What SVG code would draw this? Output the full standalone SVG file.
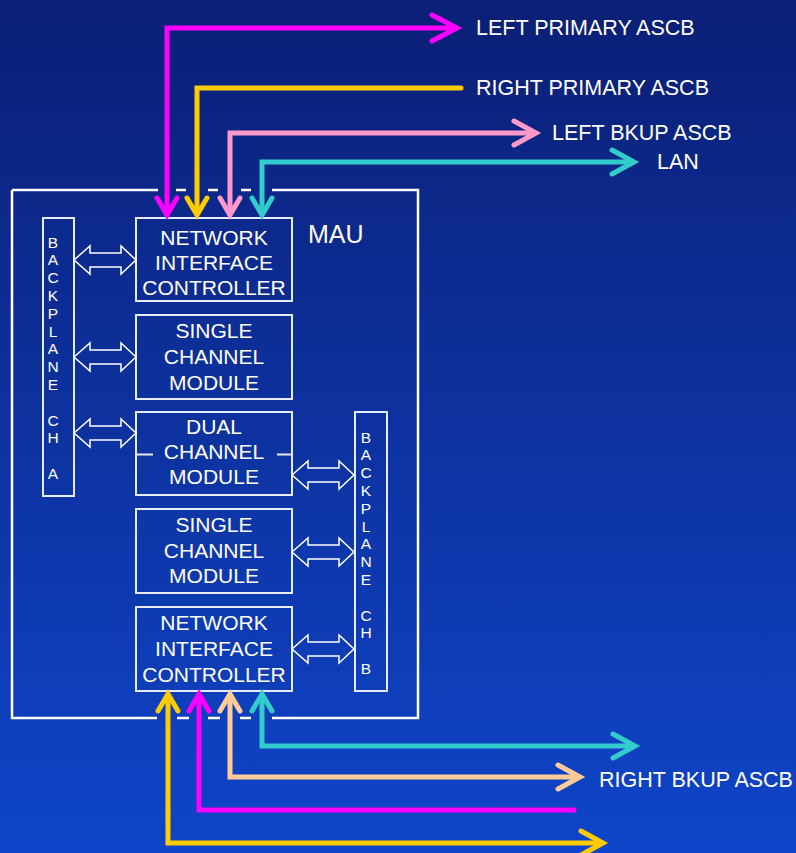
<svg xmlns="http://www.w3.org/2000/svg" width="796" height="853" viewBox="0 0 796 853">
<defs>
<linearGradient id="bg" x1="0" y1="0" x2="0" y2="1">
<stop offset="0" stop-color="#0b1f76"/>
<stop offset="1" stop-color="#0f45c9"/>
</linearGradient>
<path id="dbl" d="M74,0 L90,-14 L90,-7 L121,-7 L121,-14 L136,0 L121,14 L121,7 L90,7 L90,14 Z"/>
</defs>
<style>
.box{fill:none;stroke:#e8ecff;stroke-width:2}
.edge{stroke:#ffffff;stroke-width:2.5;fill:none}
.t{font-family:"Liberation Sans",Arial,sans-serif;font-size:21px;fill:#ffffff;text-anchor:middle}
.lbl{font-family:"Liberation Sans",Arial,sans-serif;font-size:21.5px;fill:#ffffff}
.bp{font-family:"Liberation Sans",Arial,sans-serif;font-size:15.5px;fill:#ffffff;text-anchor:middle}
.ba{fill:none;stroke:#ffffff;stroke-width:1.5;stroke-linejoin:miter}
.c{fill:none;stroke-width:5;stroke-linecap:round;stroke-linejoin:miter}
.mg{stroke:#ff00ff}.yl{stroke:#ffcc00}.pk{stroke:#ff99cc}.tl{stroke:#33cccc}.pc{stroke:#ffcc99}
</style>
<rect x="0" y="0" width="796" height="853" fill="url(#bg)"/>

<g id="mau">
<path class="edge" d="M12,190 V718 H157 M177,718 H189 M208,718 H220 M240,718 H251 M272,718 H418 V190 H272 M251,190 H241 M218,190 H208 M186,190 H176 M158,190 H12"/>
<text class="lbl" x="308" y="243" style="font-size:25px">MAU</text>
</g>

<g id="backplane-a">
<rect class="box" x="43" y="218" width="31" height="278"/>
<text class="bp"><tspan x="53" y="247.5">B</tspan><tspan x="53" y="265.3">A</tspan><tspan x="53" y="283.1">C</tspan><tspan x="53" y="300.9">K</tspan><tspan x="53" y="318.7">P</tspan><tspan x="53" y="336.5">L</tspan><tspan x="53" y="354.3">A</tspan><tspan x="53" y="372.1">N</tspan><tspan x="53" y="389.9">E</tspan><tspan x="53" y="425.5">C</tspan><tspan x="53" y="443.3">H</tspan><tspan x="53" y="478.9">A</tspan></text>
</g>

<g id="backplane-b">
<rect class="box" x="355" y="412" width="32" height="279"/>
<text class="bp"><tspan x="366" y="442.5">B</tspan><tspan x="366" y="460.3">A</tspan><tspan x="366" y="478.1">C</tspan><tspan x="366" y="495.9">K</tspan><tspan x="366" y="513.7">P</tspan><tspan x="366" y="531.5">L</tspan><tspan x="366" y="549.3">A</tspan><tspan x="366" y="567.1">N</tspan><tspan x="366" y="584.9">E</tspan><tspan x="366" y="620.5">C</tspan><tspan x="366" y="638.3">H</tspan><tspan x="366" y="673.9">B</tspan></text>
</g>

<g id="nic-top">
<rect class="box" x="136" y="218" width="156" height="83"/>
<text class="t"><tspan x="214" y="244.5">NETWORK</tspan><tspan x="214" y="269.5">INTERFACE</tspan><tspan x="214" y="295">CONTROLLER</tspan></text>
</g>

<g id="single-1">
<rect class="box" x="136" y="315" width="156" height="84"/>
<text class="t"><tspan x="214" y="338">SINGLE</tspan><tspan x="214" y="364">CHANNEL</tspan><tspan x="214" y="390">MODULE</tspan></text>
</g>

<g id="dual">
<rect class="box" x="136" y="412" width="156" height="83"/>
<line class="box" x1="136" y1="454.5" x2="153" y2="454.5"/>
<line class="box" x1="277" y1="454.5" x2="292" y2="454.5"/>
<text class="t"><tspan x="214" y="433.5">DUAL</tspan><tspan x="214" y="459">CHANNEL</tspan><tspan x="214" y="484">MODULE</tspan></text>
</g>

<g id="single-2">
<rect class="box" x="136" y="509" width="156" height="84"/>
<text class="t"><tspan x="214" y="532">SINGLE</tspan><tspan x="214" y="557.5">CHANNEL</tspan><tspan x="214" y="583">MODULE</tspan></text>
</g>

<g id="nic-bottom">
<rect class="box" x="136" y="607" width="156" height="84"/>
<text class="t"><tspan x="214" y="630">NETWORK</tspan><tspan x="214" y="656">INTERFACE</tspan><tspan x="214" y="682">CONTROLLER</tspan></text>
</g>

<g id="labels">
<text class="lbl" x="476" y="34.5">LEFT PRIMARY ASCB</text>
<text class="lbl" x="476" y="95">RIGHT PRIMARY ASCB</text>
<text class="lbl" x="552" y="139.5">LEFT BKUP ASCB</text>
<text class="lbl" x="657" y="169">LAN</text>
<text class="lbl" x="599" y="786.5">RIGHT BKUP ASCB</text>
</g>

<g id="connectors">
<use href="#dbl" class="ba" transform="translate(0,260)"/>
<use href="#dbl" class="ba" transform="translate(0,357)"/>
<use href="#dbl" class="ba" transform="translate(0,433)"/>
<use href="#dbl" class="ba" transform="translate(218,475)"/>
<use href="#dbl" class="ba" transform="translate(218,552)"/>
<use href="#dbl" class="ba" transform="translate(218,649)"/>

<path class="c mg" d="M167,212 V28 H456"/>
<polyline class="c mg" points="432,15 457,28 432,41"/>
<polyline class="c mg" points="157,198 167,215 177,198"/>

<path class="c yl" d="M197,212 V88 H461"/>
<polyline class="c yl" points="187,198 197,215 207,198"/>

<path class="c pk" d="M230,212 V133 H535"/>
<polyline class="c pk" points="514,121 536,133 514,145"/>
<polyline class="c pk" points="220,198 230,215 240,198"/>

<path class="c tl" d="M262,212 V162 H633"/>
<polyline class="c tl" points="612,150 634,162 612,174"/>
<polyline class="c tl" points="252,198 262,215 272,198"/>

<path class="c tl" d="M262,696 V746 H634"/>
<polyline class="c tl" points="252,711 262,694 272,711"/>
<polyline class="c tl" points="613,734 635,746 613,758"/>

<path class="c pc" d="M230,696 V777 H579"/>
<polyline class="c pc" points="220,711 230,694 240,711"/>
<polyline class="c pc" points="558,765 580,777 558,789"/>

<path class="c mg" d="M199,696 V810 H574"/>
<polyline class="c mg" points="189,711 199,694 209,711"/>

<path class="c yl" d="M168,696 V843 H602"/>
<polyline class="c yl" points="158,711 168,694 178,711"/>
<polyline class="c yl" points="581,831 603,843 581,855"/>
</g>
</svg>
